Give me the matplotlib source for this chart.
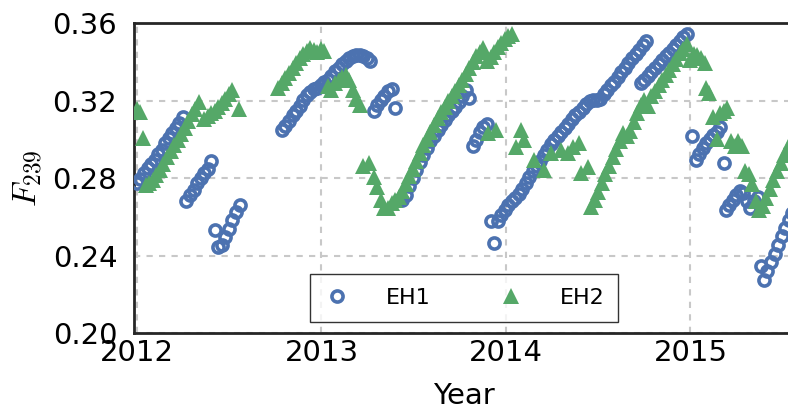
import matplotlib
matplotlib.use("Agg")
import matplotlib.pyplot as plt
import numpy as np

plt.rcParams['mathtext.fontset'] = 'cm'
plt.rcParams['font.family'] = ['DejaVu Sans']

# Weekly samples, counted in weeks from the start of 2012
eh1_week = [
    0, 1, 2, 3, 4, 5, 6, 7, 8, 9, 10, 11, 12, 13,
    14, 15, 16, 17, 18, 19, 20, 21,
    22, 23, 24, 25, 26, 27, 28, 29,
    41, 42, 43, 44, 45, 46, 47, 48, 49, 50, 51, 52, 53, 54, 55, 56, 57, 58,
    59, 60, 61, 62, 63, 64, 65, 66,
    67, 68, 69, 70, 71, 72, 73,
    74, 75, 76, 77, 78, 79, 80, 81, 82, 83, 84, 85, 86, 87, 88, 89, 90, 91,
    92, 93, 94,
    95, 96, 97, 98, 99,
    100, 101, 102, 103, 104, 105, 106, 107, 108, 109, 110, 111, 112, 113,
    114, 115, 116, 117, 118, 119, 120, 121, 122, 123, 124, 125, 126, 127,
    128, 129, 130, 131, 132, 133, 134, 135, 136, 137, 138, 139, 140, 141,
    142, 143, 144,
    142.5, 143.5, 144.5, 145.5, 146.5, 147.5, 148.5, 149.5, 150.5, 151.5,
    152.5, 153.5, 154.5, 155.5,
    157, 158, 159, 160, 161, 162, 163, 164, 165, 166,
    166.5, 167.5, 168.5, 169.5, 170.5, 171.5, 172.5, 173.5, 174.5, 175.5,
    176.5, 177.3, 178.3, 179.3, 180.3, 181.3, 182.3, 183.3, 184.3, 185.3,
]
eh1_f239 = [
    0.2775, 0.2795, 0.2825, 0.2855, 0.2875, 0.2895, 0.2925, 0.2945, 0.298,
    0.301, 0.3035, 0.306, 0.3085, 0.3115,
    0.268, 0.2715, 0.274, 0.2775, 0.280, 0.2825, 0.285, 0.289,
    0.253, 0.2445, 0.2455, 0.2495, 0.254, 0.2585, 0.2625, 0.266,
    0.3048, 0.307, 0.3095, 0.3125, 0.315, 0.3175, 0.3205, 0.3228, 0.3245,
    0.326, 0.3268, 0.328, 0.3295, 0.331, 0.333, 0.3352, 0.337, 0.339,
    0.3405, 0.342, 0.343, 0.3435, 0.3438, 0.3432, 0.342, 0.3405,
    0.315, 0.318, 0.3205, 0.3225, 0.325, 0.326, 0.3165,
    0.2685, 0.269, 0.2715, 0.276, 0.280, 0.2845, 0.2885, 0.292, 0.2955,
    0.299, 0.302, 0.305, 0.3075, 0.310, 0.3125, 0.315, 0.317, 0.3195,
    0.3225, 0.3255, 0.3215,
    0.2965, 0.300, 0.304, 0.3065, 0.308,
    0.258, 0.2465, 0.258, 0.261, 0.2635, 0.266, 0.268, 0.270, 0.272, 0.2745,
    0.2775, 0.2805, 0.2835, 0.2865,
    0.289, 0.292, 0.2945, 0.2975, 0.300, 0.302, 0.304, 0.306, 0.308, 0.3105,
    0.3125, 0.3145, 0.3165, 0.3185,
    0.320, 0.3205, 0.3205, 0.321, 0.3233, 0.3256, 0.328, 0.330, 0.3325,
    0.335, 0.337, 0.3395, 0.342, 0.344,
    0.3465, 0.349, 0.351,
    0.329, 0.331, 0.333, 0.335, 0.337, 0.339, 0.341, 0.343, 0.345, 0.347,
    0.349, 0.351, 0.353, 0.3545,
    0.302, 0.2895, 0.2925, 0.2955, 0.298, 0.3005, 0.3025, 0.304, 0.3065,
    0.2877,
    0.2635, 0.266, 0.269, 0.2715, 0.2735, 0.2725, 0.268, 0.2645, 0.268,
    0.2705,
    0.2345, 0.2275, 0.232, 0.2365, 0.241, 0.2455, 0.250, 0.2545, 0.2585,
    0.262,
]

eh2_week = [
    0, 1, 1.8,
    2.5, 3.5, 4.5, 5.5, 6.5, 7.5, 8.5, 9.5, 10.5, 11.5, 12.5, 13.5, 14.5,
    15.5, 16.5, 17.5,
    19, 20, 21, 22, 23, 24, 25, 26, 27, 28.8,
    40, 41, 42, 43, 44, 45, 46, 47, 48, 49, 50, 51, 52, 53,
    54, 55, 56, 57, 58, 59, 60, 61, 62, 63,
    64, 65.5, 67, 68, 69, 70, 71, 72, 73,
    74, 75, 76, 77, 78, 79, 80, 81, 82, 83, 84, 85, 86, 87, 88, 89, 90, 91,
    92, 93, 94, 95, 96, 97, 98, 99, 100, 101, 102, 103, 104, 105, 106,
    99.3, 101.5, 107.2, 108.6, 109.4, 112.3, 115.1, 117.1, 119.9, 121.9,
    123.3, 125, 125.6, 127.5,
    128.5, 129.5, 130.5, 131.5, 132.5, 133.5, 134.5, 135.5, 136.5, 137.5,
    138.5, 139.5, 140.5, 141.5, 142.5, 143.5, 144.5, 145.5, 146.5, 147.5,
    148.5, 149.5, 150.5, 151.5, 152.5, 153.5, 154.5, 155.5,
    156.5, 157.5, 158.5, 159.5, 160.5, 161, 161.8, 163, 164, 165, 166, 167,
    168, 169, 170, 171, 172, 173, 174, 175,
    176, 177, 178, 179, 180, 181, 182, 183, 184, 185,
]
eh2_f239 = [
    0.316, 0.314, 0.301,
    0.2765, 0.2775, 0.279, 0.2815, 0.2845, 0.2875, 0.291, 0.294, 0.297,
    0.300, 0.303, 0.306, 0.3095, 0.313, 0.316, 0.3195,
    0.3105, 0.312, 0.3135, 0.315, 0.317, 0.319, 0.321, 0.3235, 0.3255, 0.316,
    0.3265, 0.329, 0.332, 0.3345, 0.337, 0.3395, 0.342, 0.344, 0.346,
    0.3475, 0.3465, 0.3455, 0.347, 0.346,
    0.3275, 0.3255, 0.329, 0.331, 0.3325, 0.3335, 0.331, 0.3255, 0.321,
    0.318,
    0.2865, 0.288, 0.2805, 0.2755, 0.269, 0.2645, 0.2645, 0.267, 0.2685,
    0.2705, 0.2735, 0.277, 0.281, 0.285, 0.289, 0.293, 0.297, 0.3005,
    0.304, 0.3075, 0.311, 0.314, 0.317, 0.320, 0.3225, 0.325, 0.328,
    0.331, 0.334, 0.337, 0.340, 0.343, 0.3455, 0.3475, 0.3405, 0.3425,
    0.3455, 0.348, 0.350, 0.352, 0.3535, 0.3545,
    0.3035, 0.3048, 0.296, 0.305, 0.2996, 0.2893, 0.2841, 0.293, 0.2944,
    0.293, 0.296, 0.298, 0.2826, 0.2857,
    0.265, 0.269, 0.273, 0.2775, 0.282, 0.2865, 0.291, 0.295, 0.2995,
    0.3035, 0.302, 0.3045, 0.309, 0.3135, 0.318, 0.3205, 0.3175, 0.3225,
    0.325, 0.328, 0.331, 0.3335, 0.336, 0.339, 0.3415, 0.3445, 0.347,
    0.3495,
    0.341, 0.344, 0.3435, 0.342, 0.3395, 0.3265, 0.324, 0.3115, 0.3005,
    0.3135, 0.315, 0.3165, 0.2995, 0.2965, 0.2995, 0.2965, 0.2835, 0.282,
    0.277, 0.268,
    0.2635, 0.2655, 0.270, 0.2745, 0.279, 0.2835, 0.288, 0.292, 0.2955,
    0.2995,
]

year_ticks = [2012, 2013, 2014, 2015]
f239_ticks = [0.20, 0.24, 0.28, 0.32, 0.36]

blue = '#4C72B0'
green = '#55A868'


def weeks_to_year(weeks):
    return 2012 + np.asarray(weeks, dtype=float) * 7.0 / 365.25


W, H = 788, 413
fig = plt.figure(figsize=(W / 100, H / 100), dpi=100)
left, right, top, bottom = 134, 794, 23.5, 333
ax = fig.add_axes([left / W, (H - bottom) / H, (right - left) / W,
                   (bottom - top) / H])

ax.plot(weeks_to_year(eh1_week), eh1_f239, linestyle='none', marker='o',
        markersize=8, markerfacecolor='none', markeredgecolor=blue,
        markeredgewidth=2.6, label='EH1', zorder=3)
ax.plot(weeks_to_year(eh2_week), eh2_f239, linestyle='none', marker='^',
        markersize=11, color=green, markeredgewidth=0, label='EH2', zorder=4)

ax.set_xlim(2011.984, 2015.561)
ax.set_ylim(0.20, 0.36)
ax.set_xticks(year_ticks)
ax.set_xticklabels([str(y) for y in year_ticks])
ax.set_yticks(f239_ticks)
ax.set_yticklabels([f'{v:.2f}' for v in f239_ticks])

ax.grid(True, color='#c8c8c8', linestyle=(0, (3, 3)), linewidth=1.5)
ax.set_axisbelow(True)
for sp in ax.spines.values():
    sp.set_color('#262626')
    sp.set_linewidth(2)

ax.tick_params(axis='both', length=0, labelsize=21, colors='black')
ax.tick_params(axis='y', pad=12)
ax.tick_params(axis='x', pad=4)

ax.set_xlabel('Year', fontsize=21, labelpad=11)
ax.set_ylabel(r'$F_{239}$', fontsize=24, labelpad=6)

leg = ax.legend(loc='lower center', bbox_to_anchor=(0.5, 11 / 309.5), ncol=2,
                frameon=True, fancybox=False, edgecolor='black',
                fontsize=16, handletextpad=1.6, columnspacing=3.0,
                borderaxespad=0, borderpad=0.62, handlelength=1.2)
leg.get_frame().set_linewidth(1.0)

fig.savefig('out.png', dpi=100)
